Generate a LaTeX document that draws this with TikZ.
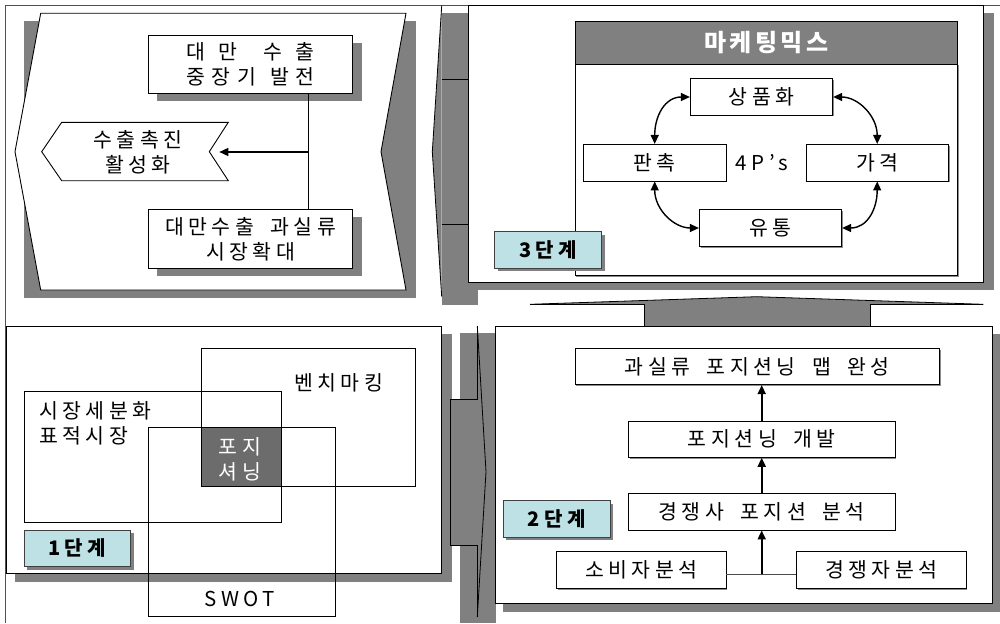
\documentclass[tikz,border=0pt]{standalone}
\usepackage{fontspec}
\setmainfont{Noto Sans CJK KR}[LetterSpace=22,WordSpace=1.8]
\usetikzlibrary{arrows.meta,shadows}
\definecolor{sgray}{RGB}{128,128,128}
\definecolor{dgray}{RGB}{108,108,108}
\definecolor{lcyan}{RGB}{189,225,228}
\definecolor{framec}{RGB}{80,80,80}
\newcommand\tf{\fontsize{20.5pt}{25pt}\selectfont}
\newcommand\lf{\fontsize{20pt}{25pt}\selectfont\bfseries}
\newcommand\hf{\fontsize{24pt}{26pt}\selectfont\bfseries\addfontfeatures{LetterSpace=14}}
\tikzset{
  panel/.style={draw=black, line width=0.9pt, fill=white},
  shd/.style={fill=sgray},
  bigbox/.style={draw=black, line width=0.8pt, fill=white, inner sep=0pt, font=\tf, align=center,
     general shadow={fill=sgray, shadow xshift=9pt, shadow yshift=-8pt}},
  pbox/.style={draw=black, line width=0.8pt, fill=white, inner sep=0pt, font=\tf, align=center,
     general shadow={fill=black!45, shadow xshift=1.2pt, shadow yshift=-1.2pt}},
  lbl/.style={draw=black!75, line width=0.8pt, fill=lcyan, inner sep=0pt, font=\lf,
     general shadow={fill=sgray, shadow xshift=3pt, shadow yshift=-3pt}},
  txt/.style={inner sep=0pt, font=\tf, align=center},
  venn/.style={draw=black, line width=0.8pt},
  link/.style={draw=black, line width=0.8pt},
  arr/.style={line width=1.8pt, -{Triangle[length=9pt,width=8pt]}},
  darr/.style={line width=1.4pt, {Triangle[length=9pt,width=8pt]}-{Triangle[length=9pt,width=8pt]}},
}
\begin{document}
\begin{tikzpicture}[x=1pt,y=-1pt]
\useasboundingbox (0,0) rectangle (1000,623);
\fill[white] (0,0) rectangle (1000,623);
% outer frame
\draw[framec, line width=0.9pt] (5.7,623) -- (5.7,5.7) -- (1000,5.7);

% ===== top-left panel =====
\fill[shd] (24,21) rectangle (416,298);
\draw[panel] (40.7,13.3) -- (406,13.3) -- (381,151.7) -- (406,290) -- (40.7,290) -- (15,151.7) -- cycle;
\node[bigbox, minimum width=204.4pt, minimum height=58.3pt] (b1) at (250.5,64.2)
  {\makebox[128pt]{대\hfill 만\hfill\hfill 수\hfill 출}\\\makebox[128pt]{중\hfill 장\hfill 기\hspace{8pt}\hfill 발\hfill 전}};
\node[bigbox, minimum width=204.4pt, minimum height=59pt] (b2) at (250.5,238.8)
  {대만수출 과실류\\시장확대};
\draw[panel] (61.7,122.3) -- (228.3,122.3) -- (209.3,151.7) -- (228.3,180.7) -- (61.7,180.7) -- (41.7,151.7) -- cycle;
\node[txt] (ch) at (138,152) {수출촉진\\활성화};
\coordinate (j) at (308.3,152);
\coordinate (chn) at (219.3,152);
\draw[link] (b1.south -| j) -- (b2.north -| j);
\draw[arr, line width=1.4pt] (j) -- (chn);

% ===== top connector =====
\fill[shd] (441.7,12.7) rectangle (477.7,305);
\fill[shd] (441.7,5.7) -- (432.3,151.7) -- (441.7,296.7) -- cycle;
\draw[link] (441.7,5.7) -- (432.3,151.7) -- (441.7,296.7);
\draw[link] (441.7,79) -- (468.3,79);
\draw[link] (441.7,224.3) -- (468.3,224.3);

% ===== top-right panel =====
\fill[shd] (476,12.7) rectangle (994,290);
\draw[panel] (468.3,5.7) rectangle (983.3,282.7);
\node[pbox, minimum width=382.3pt, minimum height=211.3pt] (ibox) at (766.2,169.7) {};
\node[draw=black, line width=0.8pt, fill=sgray, inner sep=0pt, minimum width=382.3pt, minimum height=42.3pt,
  text=white, font=\hf] (hdr) at (766.2,42.8) {마케팅믹스};
\node[pbox, minimum width=142.4pt, minimum height=36.6pt] (p1) at (761.5,97) {상품화};
\node[pbox, minimum width=142.7pt, minimum height=36.7pt] (p2) at (654.7,162.7) {판촉};
\node[pbox, minimum width=142.3pt, minimum height=36.7pt] (p3) at (877.2,162.7) {가격};
\node[pbox, minimum width=142.4pt, minimum height=36.6pt] (p4) at (770.5,228) {유통};
\node[txt] (fp) at (762,163) {4P’s};
\draw[darr] (p1.west) .. controls +(-25,0) and +(0,-28) .. (p2.north);
\draw[darr] (p1.east) .. controls +(25,0) and +(0,-28) .. (p3.north);
\draw[darr] (p2.south) .. controls +(0,28) and +(-25,0) .. (p4.west);
\draw[darr] (p3.south) .. controls +(0,28) and +(25,0) .. (p4.east);
\node[lbl, minimum width=107pt, minimum height=36.6pt] (l3) at (548.2,250) {3단계};

% ===== upward connector =====
\fill[shd] (530,304.3) -- (756.7,296.7) -- (983.3,304.3) -- cycle;
\fill[shd] (644,304.3) rectangle (870.7,326);
\draw[link] (530,304.3) -- (756.7,296.7) -- (983.3,304.3);
\draw[link] (530,304.3) -- (644,304.3) -- (644,326);
\draw[link] (983.3,304.3) -- (870.7,304.3) -- (870.7,326);

% ===== bottom-left panel =====
\fill[shd] (15,334) rectangle (451.7,581.7);
\draw[panel] (6,326) rectangle (441.7,573.3);
\fill[dgray] (201.7,427.7) rectangle (281.7,486);
\draw[venn] (201.7,348.3) rectangle (415,486);
\draw[venn] (24,391.7) rectangle (281.7,522.3);
\draw[venn] (148.3,427.7) rectangle (335,616.7);
\node[txt, anchor=west] (vb) at (294,383) {벤치마킹};
\node[txt, anchor=west, align=left] (vs) at (39,423) {시장세분화\\표적시장};
\node[txt, text=white] (vp) at (240,459.5) {포지\\셔닝};
\node[txt] (vw) at (240,599) {SWOT};
\node[lbl, minimum width=106.7pt, minimum height=36.7pt] (l1) at (77.3,548.3) {1단계};

% ===== bottom connector =====
\fill[shd] (460,333.3) rectangle (495.7,622.7);
\fill[shd] (450,399) rectangle (477.3,545);
\fill[shd] (477.3,326) -- (486,471.7) -- (477.3,617) -- cycle;
\draw[link] (477.3,326) -- (477.3,399) -- (450,399) -- (450,545) -- (477.3,545) -- (477.3,617);
\draw[link] (477.3,326) -- (486,471.7) -- (477.3,617);

% ===== bottom-right panel =====
\fill[shd] (503,334) rectangle (1000,611.7);
\draw[panel] (495,326) rectangle (992.7,603.3);
\node[pbox, minimum width=364.3pt, minimum height=36.4pt] (q1) at (757.2,366.5) {과실류 포지션닝 맵 완성};
\node[pbox, minimum width=266.7pt, minimum height=36.3pt] (q2) at (761.7,439.2) {포지션닝 개발};
\node[pbox, minimum width=266.7pt, minimum height=36.7pt] (q3) at (761.7,511.7) {경쟁사 포지션 분석};
\node[pbox, minimum width=169.3pt, minimum height=36.6pt] (s1) at (641.3,570) {소비자분석};
\node[pbox, minimum width=169.3pt, minimum height=36.6pt] (s2) at (881.3,570) {경쟁자분석};
\coordinate (jn) at (761.7,574);
\draw[line width=0.9pt, black!70] (s1.east |- jn) -- (s2.west |- jn);
\draw[arr] (jn) -- (jn |- q3.south);
\draw[arr] (q3.north) -- (q3.north |- q2.south);
\draw[arr] (q2.north) -- (q2.north |- q1.south);
\node[lbl, minimum width=106.7pt, minimum height=36.6pt] (l2) at (556.7,519) {2단계};
\end{tikzpicture}
\end{document}
